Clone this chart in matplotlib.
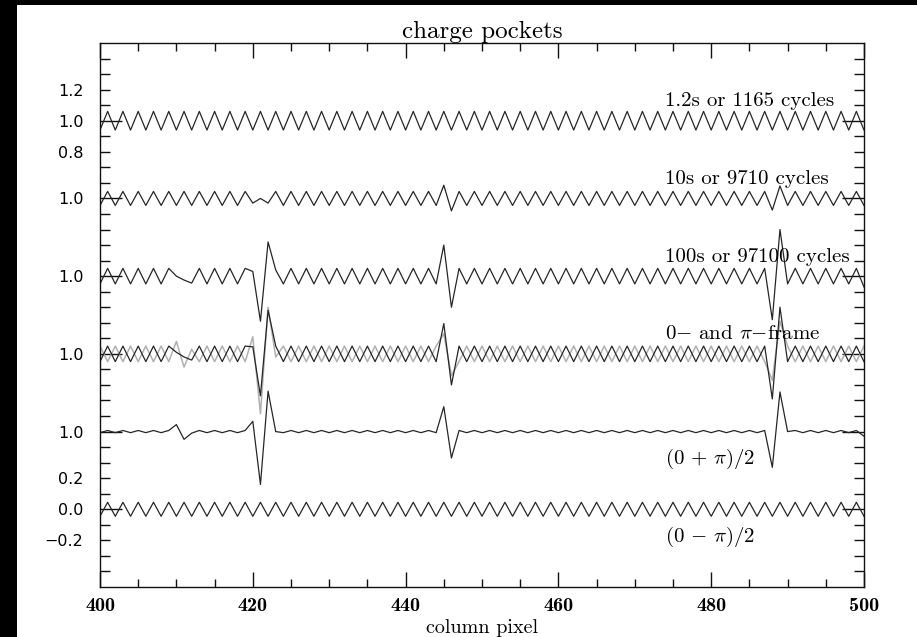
import matplotlib.pyplot as plt
from matplotlib.patches import Rectangle
from matplotlib.ticker import MultipleLocator

plt.rcParams['mathtext.fontset'] = 'cm'

columns = list(range(400, 501))

# 1.2s or 1165 cycles
short_exp = [
    0.94, 1.06, 0.94, 1.06, 0.94, 1.06, 0.94, 1.06, 0.94, 1.06,
    0.94, 1.06, 0.94, 1.06, 0.94, 1.06, 0.94, 1.06, 0.94, 1.06,
    0.94, 1.06, 0.94, 1.06, 0.94, 1.06, 0.94, 1.06, 0.94, 1.06,
    0.94, 1.06, 0.94, 1.06, 0.94, 1.06, 0.94, 1.06, 0.94, 1.06,
    0.94, 1.06, 0.94, 1.06, 0.94, 1.06, 0.94, 1.06, 0.94, 1.06,
    0.94, 1.06, 0.94, 1.06, 0.94, 1.06, 0.94, 1.06, 0.94, 1.06,
    0.94, 1.06, 0.94, 1.06, 0.94, 1.06, 0.94, 1.06, 0.94, 1.06,
    0.94, 1.06, 0.94, 1.06, 0.94, 1.06, 0.94, 1.06, 0.94, 1.06,
    0.94, 1.06, 0.94, 1.06, 0.94, 1.06, 0.94, 1.06, 0.94, 1.06,
    0.94, 1.06, 0.94, 1.06, 0.94, 1.06, 0.94, 1.06, 0.94, 1.06,
    0.94,
]

# 10s or 9710 cycles
mid_exp = [
    0.955, 1.045, 0.955, 1.045, 0.955, 1.045, 0.955, 1.045, 0.955, 1.045,
    0.955, 1.045, 0.955, 1.045, 0.955, 1.045, 0.955, 1.045, 0.955, 1.045,
    0.97, 1.00, 0.97, 1.045, 0.955, 1.045, 0.955, 1.045, 0.955, 1.045,
    0.955, 1.045, 0.955, 1.045, 0.955, 1.045, 0.955, 1.045, 0.955, 1.045,
    0.955, 1.045, 0.955, 1.045, 0.955, 1.085, 0.92, 1.045, 0.955, 1.045,
    0.955, 1.045, 0.955, 1.045, 0.955, 1.045, 0.955, 1.045, 0.955, 1.045,
    0.955, 1.045, 0.955, 1.045, 0.955, 1.045, 0.955, 1.045, 0.955, 1.045,
    0.955, 1.045, 0.955, 1.045, 0.955, 1.045, 0.955, 1.045, 0.955, 1.045,
    0.955, 1.045, 0.955, 1.045, 0.955, 1.045, 0.955, 1.045, 0.925, 1.08,
    0.955, 1.045, 0.955, 1.045, 0.955, 1.045, 0.955, 1.045, 0.955, 1.045,
    0.955,
]

# 100s or 97100 cycles
long_exp = [
    0.95, 1.05, 0.95, 1.05, 0.95, 1.05, 0.95, 1.05, 0.95, 1.05,
    1.00, 0.975, 0.955, 1.05, 0.95, 1.05, 0.95, 1.05, 0.95, 1.05,
    1.03, 0.71, 1.22, 1.04, 0.95, 1.05, 0.95, 1.05, 0.95, 1.05,
    0.95, 1.05, 0.95, 1.05, 0.95, 1.05, 0.95, 1.05, 0.95, 1.05,
    0.95, 1.05, 0.95, 1.05, 0.95, 1.20, 0.80, 1.05, 0.95, 1.05,
    0.95, 1.05, 0.95, 1.05, 0.95, 1.05, 0.95, 1.05, 0.95, 1.05,
    0.95, 1.05, 0.95, 1.05, 0.95, 1.05, 0.95, 1.05, 0.95, 1.05,
    0.95, 1.05, 0.95, 1.05, 0.95, 1.05, 0.95, 1.05, 0.95, 1.05,
    0.95, 1.05, 0.95, 1.05, 0.95, 1.05, 0.95, 1.05, 0.72, 1.30,
    0.95, 1.05, 0.95, 1.05, 0.95, 1.05, 0.95, 1.05, 0.95, 1.05,
    0.93,
]

# 0-frame (black)
frame_zero = [
    0.95, 1.05, 0.95, 1.05, 0.95, 1.05, 0.95, 1.05, 0.95, 1.05,
    1.01, 0.98, 0.96, 1.05, 0.95, 1.05, 0.95, 1.05, 0.95, 1.05,
    1.045, 0.73, 1.28, 1.05, 0.95, 1.05, 0.95, 1.05, 0.95, 1.05,
    0.95, 1.05, 0.95, 1.05, 0.95, 1.05, 0.95, 1.05, 0.95, 1.05,
    0.95, 1.05, 0.95, 1.05, 0.95, 1.195, 0.80, 1.05, 0.95, 1.05,
    0.95, 1.05, 0.95, 1.05, 0.95, 1.05, 0.95, 1.05, 0.95, 1.05,
    0.95, 1.05, 0.95, 1.05, 0.95, 1.05, 0.95, 1.05, 0.95, 1.05,
    0.95, 1.05, 0.95, 1.05, 0.95, 1.05, 0.95, 1.05, 0.95, 1.05,
    0.95, 1.05, 0.95, 1.05, 0.95, 1.05, 0.95, 1.05, 0.71, 1.30,
    0.95, 1.05, 0.95, 1.05, 0.95, 1.05, 0.95, 1.05, 0.95, 1.05,
    0.95,
]

# pi-frame (grey)
frame_pi = [
    1.05, 0.95, 1.05, 0.95, 1.05, 0.95, 1.05, 0.95, 1.05, 0.95,
    1.08, 0.915, 1.03, 0.95, 1.05, 0.95, 1.05, 0.95, 1.05, 0.95,
    1.11, 0.615, 1.30, 0.98, 1.05, 0.95, 1.05, 0.95, 1.05, 0.95,
    1.05, 0.95, 1.05, 0.95, 1.05, 0.95, 1.05, 0.95, 1.05, 0.95,
    1.05, 0.95, 1.05, 0.95, 1.05, 1.13, 0.86, 0.95, 1.05, 0.95,
    1.05, 0.95, 1.05, 0.95, 1.05, 0.95, 1.05, 0.95, 1.05, 0.95,
    1.05, 0.95, 1.05, 0.95, 1.05, 0.95, 1.05, 0.95, 1.05, 0.95,
    1.05, 0.95, 1.05, 0.95, 1.05, 0.95, 1.05, 0.95, 1.05, 0.95,
    1.05, 0.95, 1.05, 0.95, 1.05, 0.95, 1.05, 0.95, 0.83, 1.21,
    1.05, 0.95, 1.05, 0.95, 1.05, 0.95, 1.05, 0.95, 1.05, 0.95,
    1.05,
]

# (0 + pi)/2
frame_sum = [
    0.993, 1.007, 0.993, 1.007, 0.993, 1.007, 0.993, 1.007, 0.993, 1.007,
    1.045, 0.95, 0.99, 1.007, 0.993, 1.007, 0.993, 1.007, 0.993, 1.007,
    1.066, 0.66, 1.26, 1.00, 0.993, 1.007, 0.993, 1.007, 0.993, 1.007,
    0.993, 1.007, 0.993, 1.007, 0.993, 1.007, 0.993, 1.007, 0.993, 1.007,
    0.993, 1.007, 0.993, 1.007, 0.993, 1.16, 0.83, 1.007, 0.993, 1.007,
    0.993, 1.007, 0.993, 1.007, 0.993, 1.007, 0.993, 1.007, 0.993, 1.007,
    0.993, 1.007, 0.993, 1.007, 0.993, 1.007, 0.993, 1.007, 0.993, 1.007,
    0.993, 1.007, 0.993, 1.007, 0.993, 1.007, 0.993, 1.007, 0.993, 1.007,
    0.993, 1.007, 0.993, 1.007, 0.993, 1.007, 0.993, 1.007, 0.77, 1.255,
    1.00, 1.007, 0.993, 1.007, 0.993, 1.007, 0.993, 1.007, 0.993, 1.007,
    0.97,
]

# (0 - pi)/2
frame_diff = [
    -0.045, 0.045, -0.045, 0.045, -0.045, 0.045, -0.045, 0.045, -0.045, 0.045,
    -0.045, 0.045, -0.045, 0.045, -0.045, 0.045, -0.045, 0.045, -0.045, 0.045,
    -0.045, 0.045, -0.045, 0.045, -0.045, 0.045, -0.045, 0.045, -0.045, 0.045,
    -0.045, 0.045, -0.045, 0.045, -0.045, 0.045, -0.045, 0.045, -0.045, 0.045,
    -0.045, 0.045, -0.045, 0.045, -0.045, 0.045, -0.045, 0.045, -0.045, 0.045,
    -0.045, 0.045, -0.045, 0.045, -0.045, 0.045, -0.045, 0.045, -0.045, 0.045,
    -0.045, 0.045, -0.045, 0.045, -0.045, 0.045, -0.045, 0.045, -0.045, 0.045,
    -0.045, 0.045, -0.045, 0.045, -0.045, 0.045, -0.045, 0.045, -0.045, 0.045,
    -0.045, 0.045, -0.045, 0.045, -0.045, 0.045, -0.045, 0.045, -0.045, 0.045,
    -0.045, 0.045, -0.045, 0.045, -0.045, 0.045, -0.045, 0.045, -0.045, 0.045,
    -0.045,
]

trace_labels = ['1.2s or 1165 cycles', '10s or 9710 cycles', '100s or 97100 cycles',
                r'0$-$ and $\pi$$-$frame', r'(0 + $\pi$)/2', r'(0 $-$ $\pi$)/2']

fig = plt.figure(figsize=(9.17, 6.37), dpi=100, facecolor='black')
fig.add_artist(Rectangle((17 / 917, 0), 900 / 917, 632 / 637, transform=fig.transFigure,
                         facecolor='white', edgecolor='none', zorder=-10))
ax = fig.add_axes([100 / 917, 50 / 637, 764 / 917, 544 / 637])

line_kw = dict(color='#262626', lw=0.9)
ax.plot(columns, [v + 1.5 for v in short_exp], **line_kw)
ax.plot(columns, [v + 1.0 for v in mid_exp], **line_kw)
ax.plot(columns, [v + 0.5 for v in long_exp], **line_kw)
ax.plot(columns, frame_pi, color='#b0b0b0', lw=1.1)
ax.plot(columns, frame_zero, **line_kw)
ax.plot(columns, [v - 0.5 for v in frame_sum], **line_kw)
ax.plot(columns, frame_diff, **line_kw)

label_y = [2.628, 2.124, 1.624, 1.128, 0.324, -0.176]
for txt, y in zip(trace_labels, label_y):
    ax.text(474, y, txt, fontsize=15, family='cmr10', ha='left', va='center')

ax.set_xlim(400, 500)
ax.set_ylim(-0.5, 3.0)

ax.xaxis.set_minor_locator(MultipleLocator(5))
ax.set_xticks([400, 420, 440, 460, 480, 500], ['400', '420', '440', '460', '480', '500'],
              family='cmb10', fontsize=14.5)

major_y = [0.0, 0.5, 1.0, 1.5, 2.0, 2.5]
major_lab = ['0.0', '1.0', '1.0', '1.0', '1.0', '1.0']
minor_y = [-0.4, -0.3, -0.2, -0.1, 0.1, 0.2, 0.3, 0.4, 0.6, 0.7, 0.8, 0.9,
           1.1, 1.2, 1.3, 1.4, 1.6, 1.7, 1.8, 1.9, 2.1, 2.2, 2.3, 2.4,
           2.6, 2.7, 2.8, 2.9]
minor_lab = ['' for _ in minor_y]
minor_lab[minor_y.index(-0.2)] = '\u22120.2'
minor_lab[minor_y.index(0.2)] = '0.2'
minor_lab[minor_y.index(2.3)] = '0.8'
minor_lab[minor_y.index(2.7)] = '1.2'
ax.set_yticks(major_y, major_lab, family='DejaVu Sans', fontsize=11.5)
ax.set_yticks(minor_y, minor_lab, minor=True, family='DejaVu Sans', fontsize=11.5)

ax.tick_params(axis='both', which='both', direction='in', top=True, right=True,
               color='#111111', width=1.0)
ax.tick_params(axis='x', which='major', length=11, pad=7)
ax.tick_params(axis='x', which='minor', length=5.5)
ax.tick_params(axis='y', which='major', length=16, pad=12)
ax.tick_params(axis='y', which='minor', length=7, pad=12)
for s in ax.spines.values():
    s.set_linewidth(1.0)
    s.set_color('#111111')

ax.set_xlabel('column pixel', family='cmr10', fontsize=14.5, labelpad=3)
ax.set_title('charge pockets', family='cmr10', fontsize=18, pad=3)

fig.savefig('out.png', dpi=100, facecolor=fig.get_facecolor())
